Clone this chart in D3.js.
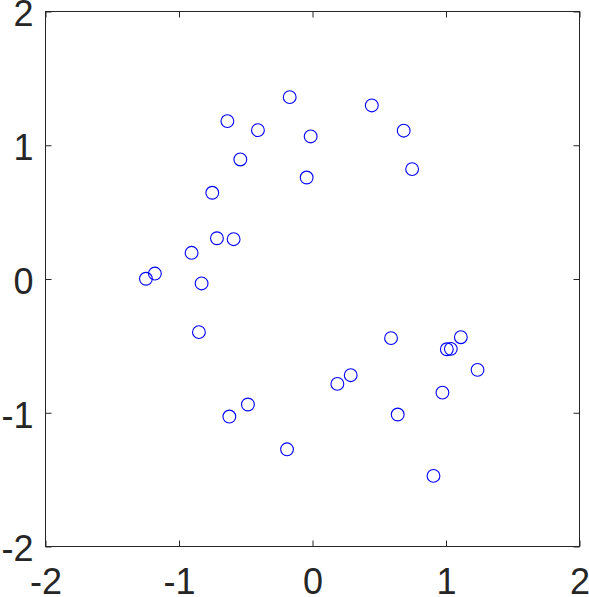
<!DOCTYPE html>
<html>
<head>
<meta charset="utf-8">
<script src="https://cdn.jsdelivr.net/npm/d3@7"></script>
<style>
  body { margin: 0; background: #fff; }
  svg { display: block; }
  .tick text { font-family: "Liberation Sans", Arial, sans-serif; font-size: 36px; fill: #262626; }
</style>
</head>
<body>
<svg id="chart" width="589" height="597"></svg>
<script>
// scatter points
var xs = [-0.167, -0.634, -0.405, -0.537, -0.747, -0.712, -0.587, -0.902, -1.177, -1.244, -0.827,
          -0.010, 0.448, 0.687, -0.040, 0.750,
          -0.847, -0.480, -0.619, -0.187,
          0.592, 1.115, 1.010, 1.040, 1.240, 0.290, 0.190, 0.977, 0.642, 0.910];
var ys = [1.356, 1.177, 1.109, 0.890, 0.641, 0.301, 0.294, 0.192, 0.037, -0.002, -0.037,
          1.062, 1.294, 1.105, 0.755, 0.818,
          -0.401, -0.942, -1.032, -1.277,
          -0.446, -0.439, -0.529, -0.526, -0.683, -0.723, -0.788, -0.853, -1.017, -1.476];
var ticks = [-2, -1, 0, 1, 2];

var mLeft = 45, mRight = 579, mTop = 11, mBottom = 546;
var svg = d3.select("#chart");
var x = d3.scaleLinear().domain([-2, 2]).range([mLeft, mRight]);
var y = d3.scaleLinear().domain([-2, 2]).range([mBottom, mTop]);

var data = xs.map(function(d, i) { return {x: d, y: ys[i]}; });

// box
svg.append("rect")
   .attr("x", mLeft + 0.5).attr("y", mTop + 0.5)
   .attr("width", mRight - mLeft).attr("height", mBottom - mTop)
   .attr("fill", "none").attr("stroke", "#262626").attr("stroke-width", 1);

function styleAxis(g, showText) {
  g.select(".domain").remove();
  g.selectAll(".tick line").attr("stroke", "#262626");
  if (!showText) g.selectAll(".tick text").remove();
}

// bottom / top (ticks inward)
svg.append("g").attr("transform", "translate(0.5," + (mBottom + 0.5) + ")")
   .call(d3.axisBottom(x).tickValues(ticks).tickSize(-6).tickPadding(22).tickFormat(d3.format("d")))
   .call(styleAxis, true);
svg.append("g").attr("transform", "translate(0.5," + (mTop + 0.5) + ")")
   .call(d3.axisTop(x).tickValues(ticks).tickSize(-6))
   .call(styleAxis, false);
// left / right
var yAxisG = svg.append("g").attr("transform", "translate(" + (mLeft + 0.5) + ",0.5)")
   .call(d3.axisLeft(y).tickValues(ticks).tickSize(-6).tickPadding(12).tickFormat(d3.format("d")))
   .call(styleAxis, true);
yAxisG.selectAll(".tick text").attr("dy", "0.4em");
svg.append("g").attr("transform", "translate(" + (mRight + 0.5) + ",0.5)")
   .call(d3.axisRight(y).tickValues(ticks).tickSize(-6))
   .call(styleAxis, false);

svg.selectAll(".tick text").text(function(d) { return String(d); });

svg.append("g").selectAll("circle")
   .data(data)
   .enter().append("circle")
   .attr("cx", function(d) { return x(d.x); })
   .attr("cy", function(d) { return y(d.y); })
   .attr("r", 6.4)
   .attr("fill", "none")
   .attr("stroke", "#0000ff")
   .attr("stroke-width", 1.1);
</script>
</body>
</html>
